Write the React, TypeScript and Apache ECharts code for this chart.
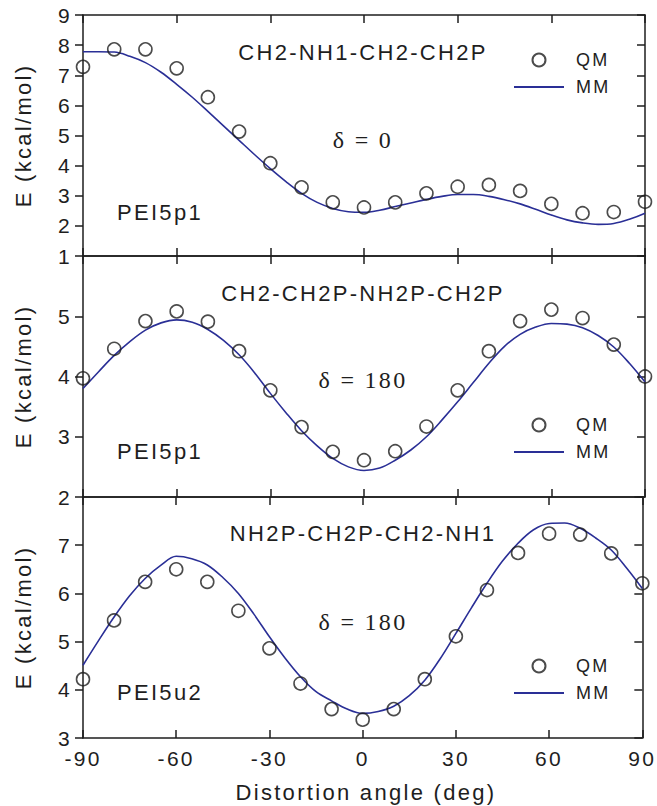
import React, { useEffect, useRef } from 'react';
import * as echarts from 'echarts';

const qmAngles = [-90, -80, -70, -60, -50, -40, -30, -20, -10, 0, 10, 20, 30, 40, 50, 60, 70, 80, 90];
const mmAngles = [-90, -85, -80, -75, -70, -65, -60, -55, -50, -45, -40, -35, -30, -25, -20, -15, -10, -5, 0, 5, 10, 15, 20, 25, 30, 35, 40, 45, 50, 55, 60, 65, 70, 75, 80, 85, 90];

const qm1 = [7.28, 7.86, 7.86, 7.23, 6.27, 5.13, 4.08, 3.28, 2.78, 2.61, 2.78, 3.08, 3.30, 3.36, 3.16, 2.73, 2.42, 2.46, 2.80];
const qm2 = [3.97, 4.46, 4.92, 5.08, 4.91, 4.42, 3.77, 3.16, 2.75, 2.61, 2.76, 3.17, 3.77, 4.42, 4.92, 5.11, 4.97, 4.53, 4.00];
const qm3 = [4.22, 5.44, 6.24, 6.50, 6.24, 5.64, 4.86, 4.13, 3.60, 3.38, 3.60, 4.22, 5.11, 6.07, 6.84, 7.24, 7.22, 6.83, 6.21];

const mm1 = [7.78, 7.78, 7.77, 7.63, 7.42, 7.10, 6.70, 6.27, 5.80, 5.32, 4.84, 4.36, 3.90, 3.47, 3.08, 2.78, 2.58, 2.47, 2.45, 2.52, 2.64, 2.76, 2.88, 2.98, 3.04, 3.04, 2.98, 2.87, 2.73, 2.55, 2.36, 2.20, 2.10, 2.05, 2.08, 2.22, 2.42];
const mm2 = [3.80, 4.08, 4.35, 4.58, 4.77, 4.89, 4.94, 4.90, 4.78, 4.60, 4.36, 4.06, 3.72, 3.40, 3.10, 2.85, 2.64, 2.50, 2.44, 2.48, 2.61, 2.78, 3.00, 3.28, 3.58, 3.90, 4.22, 4.50, 4.70, 4.82, 4.88, 4.87, 4.81, 4.68, 4.49, 4.22, 3.91];
const mm3 = [4.51, 5.02, 5.51, 5.95, 6.31, 6.58, 6.77, 6.72, 6.59, 6.33, 6.00, 5.57, 5.10, 4.66, 4.27, 3.96, 3.77, 3.60, 3.51, 3.55, 3.66, 3.88, 4.20, 4.65, 5.17, 5.70, 6.21, 6.67, 7.04, 7.32, 7.45, 7.46, 7.35, 7.15, 6.90, 6.52, 6.10];

const yRanges = [[1, 9], [2, 6], [3, 8]];
const torsions = ['CH2-NH1-CH2-CH2P', 'CH2-CH2P-NH2P-CH2P', 'NH2P-CH2P-CH2-NH1'];
const deltas = ['δ = 0', 'δ = 180', 'δ = 180'];
const molecules = ['PEI5p1', 'PEI5p1', 'PEI5u2'];
const seriesNames = ['QM', 'MM'];

const SANS = "'Liberation Sans', Arial, sans-serif";
const SERIF = "'Liberation Serif', 'Times New Roman', serif";
const INK = '#1e1e1e';
const CURVE = '#2a2f96';

export default function App() {
  const ref = useRef<HTMLDivElement>(null);
  useEffect(() => {
    document.body.style.margin = '0';
    const chart = echarts.init(ref.current!, null, { renderer: 'svg' });
    const L = 83, W = 562, H = 241;
    const tops = [15, 256, 497];
    const titleY = [52, 293.5, 533];
    const deltaY = [140, 380, 621.5];
    const molY = [212, 451, 692.5];
    const legTop = [51, 416, 657];

    const grid = tops.map((t) => ({ left: L, top: t, width: W, height: H }));
    const xAxis: any[] = [];
    const yAxis: any[] = [];
    const axisLine = { show: true, onZero: false, lineStyle: { color: INK, width: 1.5 } };
    tops.forEach((_, i) => {
      const last = i === 2;
      xAxis.push({
        type: 'value', gridIndex: i, position: 'bottom', min: -90, max: 90, interval: 30,
        axisLine, splitLine: { show: false },
        axisTick: { show: true, inside: true, length: 8, lineStyle: { color: INK, width: 1.5 } },
        axisLabel: { show: last, margin: 10, fontSize: 21, fontFamily: SANS, color: INK },
      });
      xAxis.push({
        type: 'value', gridIndex: i, position: 'top', min: -90, max: 90, interval: 30,
        axisLine, splitLine: { show: false },
        axisTick: { show: true, inside: true, length: 8, lineStyle: { color: INK, width: 1.5 } },
        axisLabel: { show: false },
      });
      yAxis.push({
        type: 'value', gridIndex: i, position: 'left', min: yRanges[i][0], max: yRanges[i][1], interval: 1,
        axisLine, splitLine: { show: false },
        axisTick: { show: true, inside: false, length: 8, lineStyle: { color: INK, width: 1.5 } },
        axisLabel: { show: true, margin: 11, fontSize: 21, fontFamily: SANS, color: INK, showMaxLabel: i === 0, showMinLabel: true },
      });
      yAxis.push({
        type: 'value', gridIndex: i, position: 'right', min: yRanges[i][0], max: yRanges[i][1], interval: 1,
        axisLine, splitLine: { show: false },
        axisTick: { show: true, inside: true, length: 8, lineStyle: { color: INK, width: 1.5 } },
        axisLabel: { show: false },
      });
    });

    const mms = [mm1, mm2, mm3];
    const qms = [qm1, qm2, qm3];
    const series: any[] = [];
    tops.forEach((_, i) => {
      series.push({
        name: seriesNames[1], type: 'line', xAxisIndex: i * 2, yAxisIndex: i * 2,
        data: mmAngles.map((a, k) => [a, mms[i][k]]), smooth: 0.35, symbol: 'none', showSymbol: false,
        lineStyle: { color: CURVE, width: 1.6 }, itemStyle: { color: CURVE }, z: 2,
      });
      series.push({
        name: seriesNames[0], type: 'scatter', xAxisIndex: i * 2, yAxisIndex: i * 2,
        data: qmAngles.map((a, k) => [a, qms[i][k]]), symbol: 'circle', symbolSize: 13,
        itemStyle: { color: 'rgba(0,0,0,0)', borderColor: INK, borderWidth: 1.6 }, z: 3,
      });
    });

    const legend = tops.map((_, i) => ({
      left: 513, top: legTop[i], padding: 0, orient: 'vertical', itemWidth: 50, itemHeight: 13, itemGap: 9,
      data: [{ name: seriesNames[0] }, { name: seriesNames[1], itemStyle: { opacity: 0 } }], selectedMode: false,
      textStyle: { fontSize: 18, fontFamily: SANS, color: INK, padding: [0, 0, 0, 7] },
    }));

    const graphic: any[] = [];
    tops.forEach((t, i) => {
      graphic.push({ type: 'text', x: 363, y: titleY[i], style: { text: torsions[i], fontSize: 22, fontFamily: SANS, fill: INK, align: 'center', verticalAlign: 'middle' } });
      graphic.push({ type: 'text', x: 363, y: deltaY[i], style: { text: deltas[i], fontSize: 24, fontFamily: SERIF, fill: INK, align: 'center', verticalAlign: 'middle' } });
      graphic.push({ type: 'text', x: 117, y: molY[i], style: { text: molecules[i], fontSize: 22, fontFamily: SANS, fill: INK, align: 'left', verticalAlign: 'middle' } });
      graphic.push({ type: 'text', x: 23, y: t + H / 2, rotation: Math.PI / 2, style: { text: 'E (kcal/mol)', fontSize: 22, fontFamily: SANS, fill: INK, align: 'center', verticalAlign: 'middle' } });
    });
    graphic.push({ type: 'text', x: 366, y: 792, style: { text: 'Distortion angle (deg)', fontSize: 22, fontFamily: SANS, fill: INK, align: 'center', verticalAlign: 'middle' } });

    chart.setOption({
      animation: false,
      backgroundColor: '#ffffff',
      grid, xAxis, yAxis, series, legend, graphic,
    });
    return () => chart.dispose();
  }, []);
  return <div ref={ref} style={{ width: 657, height: 806, letterSpacing: '2.3px' }} />;
}
